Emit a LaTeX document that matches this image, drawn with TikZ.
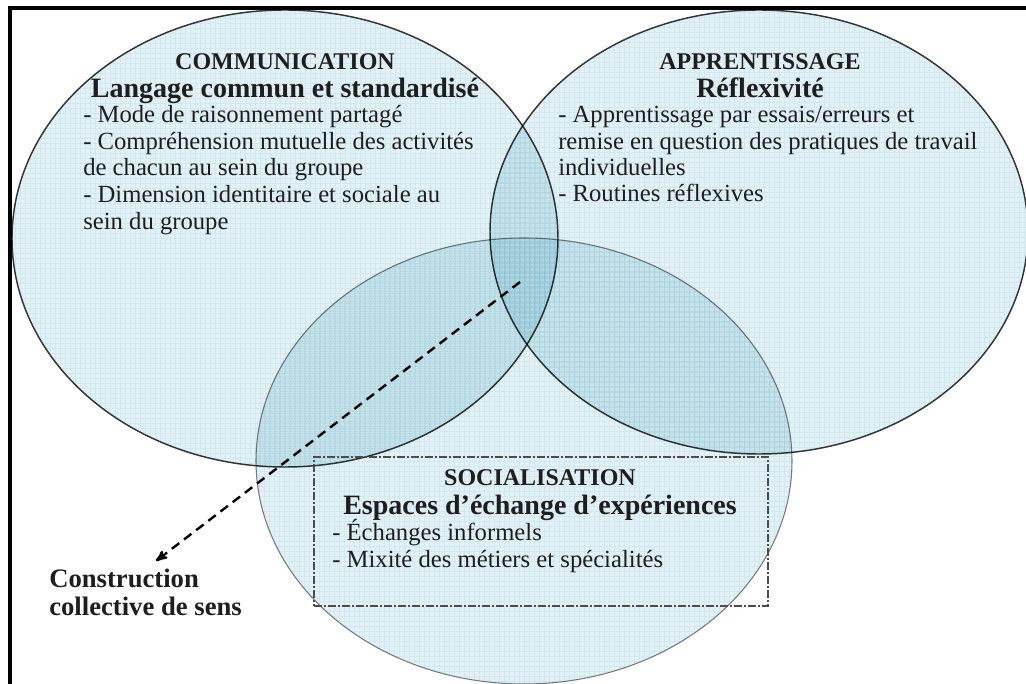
\documentclass[tikz,border=0pt]{standalone}
\usepackage{fontspec}
\setmainfont{Liberation Serif}
\usetikzlibrary{arrows,shapes.geometric}

\definecolor{setfill}{RGB}{225,241,245}
\definecolor{setgrid}{RGB}{238,246,248}
\definecolor{setline}{RGB}{55,55,55}
\definecolor{textcol}{RGB}{30,30,30}

\begin{document}
\begin{tikzpicture}[x=0.75pt,y=-0.75pt,>=stealth',
	set node/.style={ellipse,draw=setline,line width=1.1pt,fill=setfill,inner sep=0pt,
		path picture={\draw[setgrid,line width=0.2pt] (path picture bounding box.south west) grid[step=3.75pt] (path picture bounding box.north east);}},
	title text/.style={font=\bfseries\fontsize{18}{20}\selectfont,text=textcol,inner sep=0pt,anchor=base},
	sub text/.style={font=\bfseries\fontsize{21}{23}\selectfont,text=textcol,inner sep=0pt,anchor=base},
	item text/.style={font=\fontsize{18.5}{20}\selectfont,text=textcol,inner sep=0pt,anchor=base west}]
	\useasboundingbox (0,0) rectangle (1026,684);

	% the three sets, multiplied so that overlaps get darker
	\begin{scope}[blend mode=multiply]
		\node[set node,minimum width=409.5pt,minimum height=342.75pt] (comm) at (285,238.5) {};
		\node[set node,minimum width=403.5pt,minimum height=333pt] (appr) at (759,232) {};
		\node[set node,draw=gray,line width=0.8pt,minimum width=402pt,minimum height=334.5pt] (soc) at (524,461) {};
	\end{scope}

	% frame
	\draw[line width=2.6pt] (10,684) -- (10,8) -- (1026,8);

	% communication
	\node[title text] (commtitle) at (285,70) {COMMUNICATION};
	\node[sub text] (commsub) at (285,98) {Langage commun et standardisé};
	\node[item text] (comm1) at (83,123) {- Mode de raisonnement partagé};
	\node[item text] (comm2) at (83,150) {- Compréhension mutuelle des activités};
	\node[item text] (comm3) at (83,176) {de chacun au sein du groupe};
	\node[item text] (comm4) at (83,203) {- Dimension identitaire et sociale au};
	\node[item text] (comm5) at (83,230) {sein du groupe};

	% apprentissage
	\node[title text] (apprtitle) at (760,70) {APPRENTISSAGE};
	\node[sub text] (apprsub) at (760,98) {Réflexivité};
	\node[item text] (appr1) at (558,123) {- Apprentissage par essais/erreurs et};
	\node[item text] (appr2) at (558,150) {remise en question des pratiques de travail};
	\node[item text] (appr3) at (558,176) {individuelles};
	\node[item text] (appr4) at (558,202) {- Routines réflexives};

	% socialisation
	\node[draw=black!70,line width=0.9pt,dash pattern=on 6pt off 1.5pt on 1.5pt off 1.5pt,
		minimum width=340.5pt,minimum height=111.75pt] (socbox) at (541,531.5) {};
	\node[title text] (soctitle) at (540,486) {SOCIALISATION};
	\node[sub text] (socsub) at (540,515) {Espaces d’échange d’expériences};
	\node[item text] (soc1) at (332,541) {- Échanges informels};
	\node[item text] (soc2) at (332,568) {- Mixité des métiers et spécialités};

	% result
	\coordinate (hub) at (520,282);
	\node[font=\bfseries\fontsize{20}{21}\selectfont,text=textcol,align=left,inner sep=0pt,anchor=north west] (sens) at (49,569) {Construction\\collective de sens};
	\draw[->,line width=1.8pt,dash pattern=on 7pt off 4.5pt,shorten >=10pt] (hub) -- (sens.north);
\end{tikzpicture}
\end{document}
